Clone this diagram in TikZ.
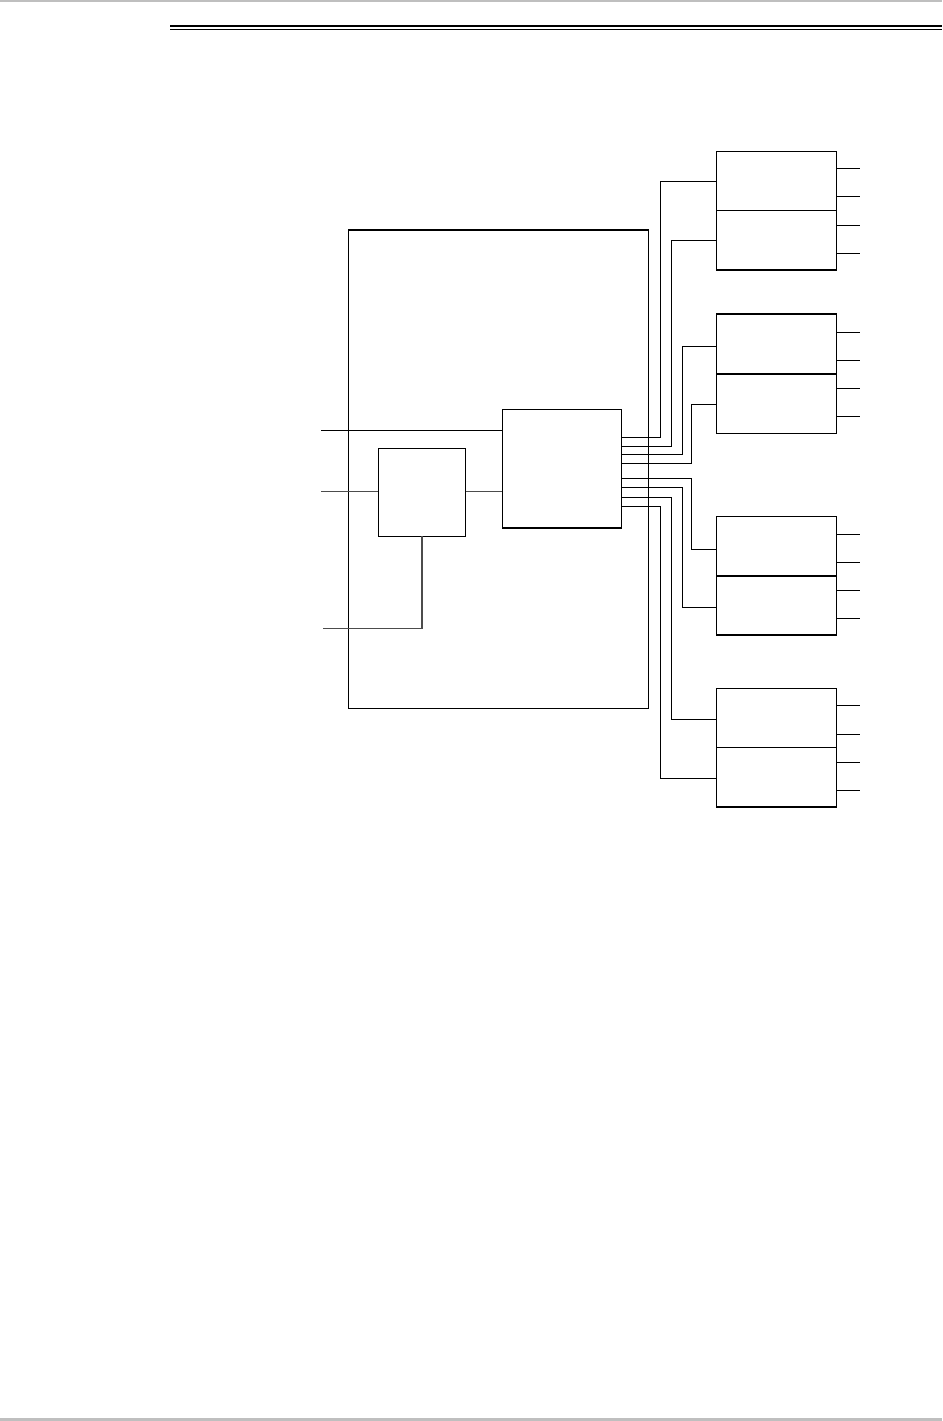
\documentclass[tikz,border=0pt]{standalone}
\begin{document}
\begin{tikzpicture}[x=1pt,y=-1pt,
  ln/.style={line width=1pt,black},
  gl/.style={line width=1.1pt,black!70},
  bx/.style={draw,line width=1.2pt,black,inner sep=0,outer sep=0},
  stub/.style={line width=1pt,black}]
\useasboundingbox (0,0) rectangle (942,1421);
% page rules
\draw[line width=2pt,black!25] (0,1) -- (942,1);
\draw[line width=2.5pt,black!25] (0,1419.5) -- (942,1419.5);
\draw[line width=2pt] (170,25.8) -- (942,25.8);
\draw[line width=1.3pt] (170,29.2) -- (942,29.2);
% frame
\node[bx,minimum width=299.6pt,minimum height=478.3pt,anchor=north west] (frame) at (348.7,230) {};
% central block
\node[bx,minimum width=119pt,minimum height=118.7pt,anchor=north west] (cpu) at (502.3,409.3) {};
% small box
\node[bx,minimum width=87.4pt,minimum height=88pt,anchor=north west] (sb) at (378.3,448.3) {};
% right boxes (upper and lower halves)
\foreach \n/\t/\m/\b in {1/151.3/210.7/270, 2/314/374/433.3, 3/516.3/576/635, 4/688.3/747.7/807}{
  \node[bx,minimum width=120.4pt,minimum height={\m-\t},anchor=north west] (b\n u) at (716.3,\t) {};
  \node[bx,minimum width=120.4pt,minimum height={\b-\m},anchor=north west] (b\n l) at (716.3,\m) {};
}
% stubs
\foreach \y in {168.7,196.7,225.3,253.3,332.3,360.3,388.3,416.3,534,562,590,618,705.3,734,762.3,790.3}{
  \coordinate (s) at (860,\y);
  \draw[stub] (836.7,\y) -- (s);
}
% inputs
\coordinate (i1) at (321.3,430.3);
\coordinate (i2) at (321.3,491.7);
\coordinate (i3) at (323,628.7);
\draw[ln] (i1) -- (i1 -| cpu.west);
\draw[gl] (i2) -- (i2 -| sb.west);
\draw[gl] (sb.east |- i2) -- (i2 -| cpu.west);
\draw[gl] (i3) -- (422,628.7) -- (422,536.3);
% fan-out connectors
\draw[ln] (621.3,437.3) -- (660.7,437.3) -- (660.7,181.3) -- (b1u.west |- 0,181.3);
\draw[ln] (621.3,446.7) -- (671.7,446.7) -- (671.7,240) -- (b1l.west |- 0,240);
\draw[ln] (621.3,454.3) -- (682,454.3) -- (682,346.7) -- (b2u.west |- 0,346.7);
\draw[ln] (621.3,463.3) -- (691.7,463.3) -- (691.7,404) -- (b2l.west |- 0,404);
\draw[ln] (621.3,478.7) -- (691.7,478.7) -- (691.7,549) -- (b3u.west |- 0,549);
\draw[ln] (621.3,487.3) -- (682.7,487.3) -- (682.7,607.3) -- (b3l.west |- 0,607.3);
\draw[ln] (621.3,497.3) -- (671.7,497.3) -- (671.7,719.3) -- (b4u.west |- 0,719.3);
\draw[ln] (621.3,506) -- (660,506) -- (660,778) -- (b4l.west |- 0,778);
\end{tikzpicture}
\end{document}
